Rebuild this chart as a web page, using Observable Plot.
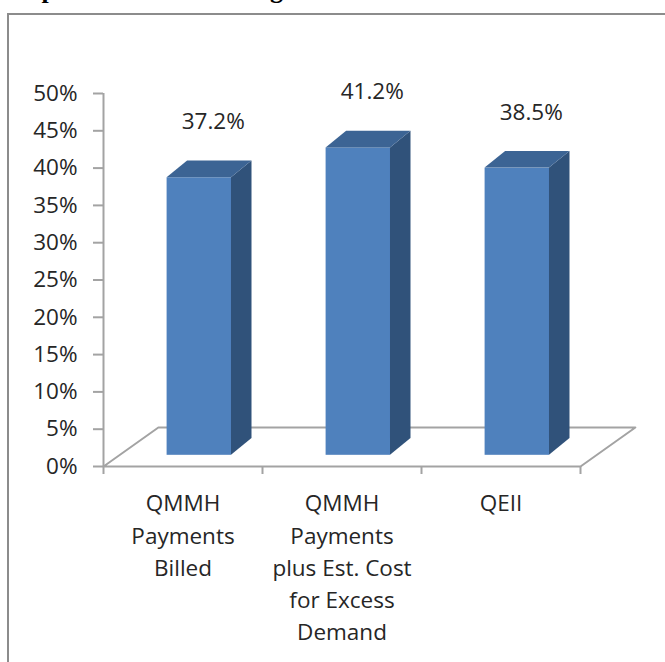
<!DOCTYPE html>
<html>
<head>
<meta charset="utf-8">
<script src="https://cdn.jsdelivr.net/npm/d3@7"></script>
<script src="https://cdn.jsdelivr.net/npm/@observablehq/plot@0.6"></script>
<style>
  html, body { margin: 0; padding: 0; background: #fff; overflow: hidden; }
  #wrap { position: relative; width: 665px; height: 662px; overflow: hidden; }
  #title { position: absolute; left: 12px; top: -23px; font: bold 26px/26px "Liberation Serif", "DejaVu Serif", serif; color: #000; white-space: nowrap; }
  #frame { position: absolute; left: 7px; top: 13px; width: 1000px; height: 1000px; border: 2px solid #8c8c8c; box-sizing: border-box; pointer-events: none; }
  #chart { position: absolute; left: 0; top: 0; }
</style>
</head>
<body>
<div id="wrap">
  <div id="chart"></div>
  <div id="title">as percent of PGM budget.</div>
  <div id="frame"></div>
</div>
<script>
// ---- data ----
const categories = ["QMMH\nPayments\nBilled", "QMMH\nPayments\nplus Est. Cost\nfor Excess\nDemand", "QEII"];
const values = [0.372, 0.412, 0.385];
const valueLabels = ["37.2%", "41.2%", "38.5%"];
const yTicks = [0, 0.05, 0.10, 0.15, 0.20, 0.25, 0.30, 0.35, 0.40, 0.45, 0.50];
const yTickLabels = ["0%", "5%", "10%", "15%", "20%", "25%", "30%", "35%", "40%", "45%", "50%"];

// ---- 3D geometry (in data units of the scales) ----
const BAR_L = 0.40, BAR_R = 0.805;      // front face within each category slot
const DX = 0.129, DY = 0.0224;          // bar depth offset
const BASE = 0.015;                     // bars stand slightly behind the floor front edge
const FDX = 0.345, FDY = 0.0523;        // floor depth offset
const n = categories.length;

const bars = categories.map((c, i) => ({i, c, v: values[i], label: valueLabels[i]}));
const sides = bars.flatMap(b => [
  {i: b.i, x: b.i + BAR_R, y1: BASE, y2: BASE + b.v},
  {i: b.i, x: b.i + BAR_R + DX, y1: BASE + DY, y2: BASE + b.v + DY}
]);
const tops = bars.flatMap(b => [
  {i: b.i, y: BASE + b.v, x1: b.i + BAR_L, x2: b.i + BAR_R},
  {i: b.i, y: BASE + b.v + DY, x1: b.i + BAR_L + DX, x2: b.i + BAR_R + DX}
]);
const floor = [
  {x: 0, y: 0}, {x: FDX, y: FDY}, {x: n + FDX, y: FDY}, {x: n, y: 0}, {x: 0, y: 0}
];
const xTicks = d3.range(n + 1);

const gray = "#a3a3a3";
const txt = "#262626";
const font = "Open Sans";

const plot = Plot.plot({
  width: 665,
  height: 662,
  marginLeft: 103,
  marginRight: 85,
  marginTop: 93,
  marginBottom: 196,
  x: {type: "linear", domain: [0, n], axis: null},
  y: {type: "linear", domain: [0, 0.5], axis: null},
  style: {fontFamily: font, background: "none", overflow: "visible"},
  marks: [
    // floor
    Plot.line(floor, {x: "x", y: "y", stroke: gray, strokeWidth: 2}),
    // y axis line and ticks
    Plot.ruleX([0], {y1: 0, y2: 0.5, stroke: gray, strokeWidth: 2}),
    Plot.ruleY(yTicks, {y: d => d, x1: 0, x2: 0, insetLeft: -10, stroke: gray, strokeWidth: 2}),
    Plot.text(yTicks, {x: 0, y: d => d, text: (d, i) => yTickLabels[i], textAnchor: "end", dx: -26, fontSize: 22.5, fill: txt}),
    // x ticks
    Plot.ruleX(xTicks, {x: d => d, y1: 0, y2: 0, insetBottom: -8, stroke: gray, strokeWidth: 2}),
    // bars: front, side, top
    Plot.rect(bars, {x1: d => d.i + BAR_L, x2: d => d.i + BAR_R, y1: BASE, y2: d => BASE + d.v, fill: "#4f81bd"}),
    Plot.areaY(sides, {x: "x", y1: "y1", y2: "y2", z: "i", fill: "#30527a"}),
    Plot.areaX(tops, {y: "y", x1: "x1", x2: "x2", z: "i", fill: "#3c6494"}),
    // value labels
    Plot.text(bars, {x: d => d.i + 0.69, y: d => d.v + 0.08, text: "label", lineAnchor: "bottom", fontSize: 22.5, fill: txt}),
    // category labels
    Plot.text(bars, {x: d => d.i + 0.5, y: 0, text: "c", lineAnchor: "top", dy: 22, fontSize: 22.5, lineHeight: 1.43, fill: txt})
  ]
});
document.getElementById("chart").appendChild(plot);
</script>
</body>
</html>
